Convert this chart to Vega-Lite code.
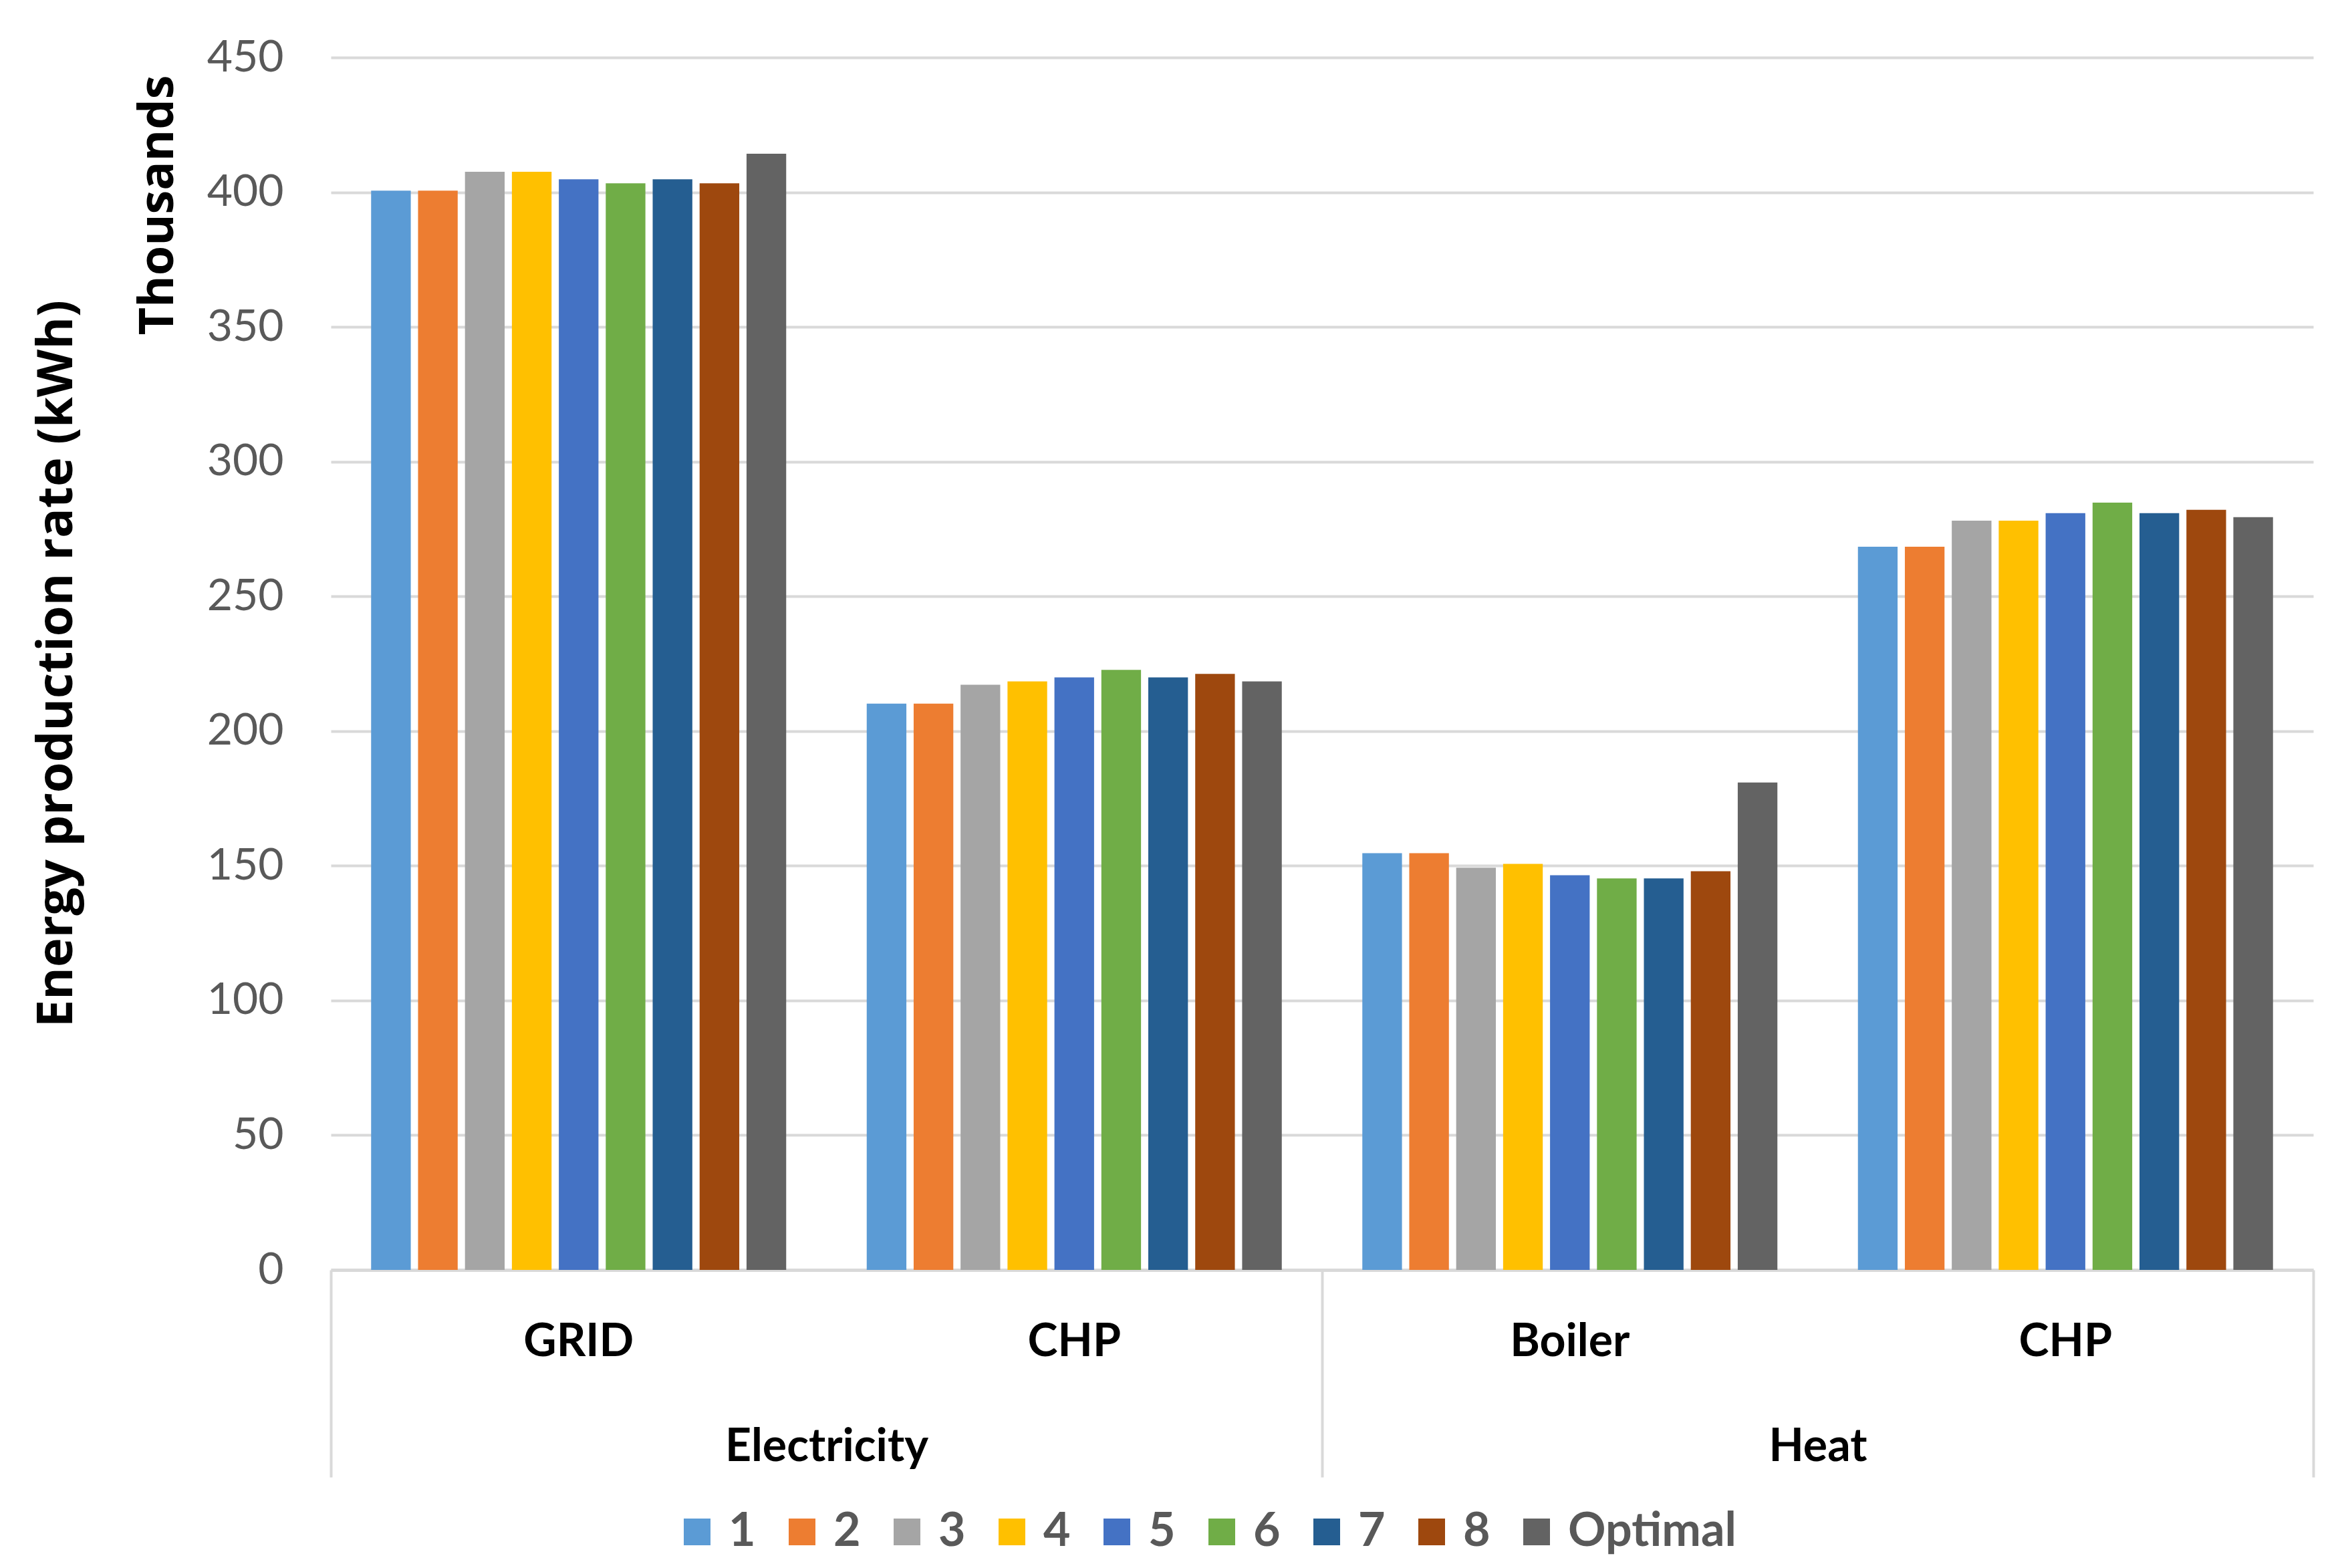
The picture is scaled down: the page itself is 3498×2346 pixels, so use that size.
{
  "$schema": "https://vega.github.io/schema/vega-lite/v6.json",
  "autosize": {"type": "none"},
  "padding": {"left": 495, "top": 86, "right": 37, "bottom": 446},
  "width": 2966,
  "height": 1814,
  "background": "white",
  "title": {"text": "Energy production rate (kWh)", "orient": "left", "anchor": "middle", "frame": "group", "font": "Open Sans", "fontSize": 74, "fontWeight": "bold", "color": "#000000", "offset": 76, "limit": 0},
  "data": {"values": [
    {"main": "Electricity", "key": "Electricity|GRID", "series": "1", "value": 400.6},
    {"main": "Electricity", "key": "Electricity|GRID", "series": "2", "value": 400.6},
    {"main": "Electricity", "key": "Electricity|GRID", "series": "3", "value": 407.6},
    {"main": "Electricity", "key": "Electricity|GRID", "series": "4", "value": 407.6},
    {"main": "Electricity", "key": "Electricity|GRID", "series": "5", "value": 404.8},
    {"main": "Electricity", "key": "Electricity|GRID", "series": "6", "value": 403.3},
    {"main": "Electricity", "key": "Electricity|GRID", "series": "7", "value": 404.8},
    {"main": "Electricity", "key": "Electricity|GRID", "series": "8", "value": 403.3},
    {"main": "Electricity", "key": "Electricity|GRID", "series": "Optimal", "value": 414.3},
    {"main": "Electricity", "key": "Electricity|CHP", "series": "1", "value": 210.2},
    {"main": "Electricity", "key": "Electricity|CHP", "series": "2", "value": 210.2},
    {"main": "Electricity", "key": "Electricity|CHP", "series": "3", "value": 217.2},
    {"main": "Electricity", "key": "Electricity|CHP", "series": "4", "value": 218.4},
    {"main": "Electricity", "key": "Electricity|CHP", "series": "5", "value": 219.9},
    {"main": "Electricity", "key": "Electricity|CHP", "series": "6", "value": 222.7},
    {"main": "Electricity", "key": "Electricity|CHP", "series": "7", "value": 219.9},
    {"main": "Electricity", "key": "Electricity|CHP", "series": "8", "value": 221.2},
    {"main": "Electricity", "key": "Electricity|CHP", "series": "Optimal", "value": 218.4},
    {"main": "Heat", "key": "Heat|Boiler", "series": "1", "value": 154.7},
    {"main": "Heat", "key": "Heat|Boiler", "series": "2", "value": 154.7},
    {"main": "Heat", "key": "Heat|Boiler", "series": "3", "value": 149.3},
    {"main": "Heat", "key": "Heat|Boiler", "series": "4", "value": 150.7},
    {"main": "Heat", "key": "Heat|Boiler", "series": "5", "value": 146.5},
    {"main": "Heat", "key": "Heat|Boiler", "series": "6", "value": 145.3},
    {"main": "Heat", "key": "Heat|Boiler", "series": "7", "value": 145.3},
    {"main": "Heat", "key": "Heat|Boiler", "series": "8", "value": 148.0},
    {"main": "Heat", "key": "Heat|Boiler", "series": "Optimal", "value": 180.9},
    {"main": "Heat", "key": "Heat|CHP", "series": "1", "value": 268.4},
    {"main": "Heat", "key": "Heat|CHP", "series": "2", "value": 268.4},
    {"main": "Heat", "key": "Heat|CHP", "series": "3", "value": 278.1},
    {"main": "Heat", "key": "Heat|CHP", "series": "4", "value": 278.1},
    {"main": "Heat", "key": "Heat|CHP", "series": "5", "value": 280.9},
    {"main": "Heat", "key": "Heat|CHP", "series": "6", "value": 284.8},
    {"main": "Heat", "key": "Heat|CHP", "series": "7", "value": 280.9},
    {"main": "Heat", "key": "Heat|CHP", "series": "8", "value": 282.1},
    {"main": "Heat", "key": "Heat|CHP", "series": "Optimal", "value": 279.4}
  ]},
  "layer": [
    {
      "mark": {"type": "bar"},
      "encoding": {
        "x": {
          "field": "key", "type": "nominal",
          "sort": ["Electricity|GRID", "Electricity|CHP", "Heat|Boiler", "Heat|CHP"],
          "scale": {"paddingInner": 0.1625, "paddingOuter": 0.08125},
          "axis": {"title": null, "labelExpr": "split(datum.value, '|')[1]", "labelFont": "Lato", "labelFontSize": 68, "labelFontWeight": "bold", "labelColor": "#000000", "labelPadding": 128, "labelBaseline": "alphabetic", "labelAngle": 0, "labelLimit": 0, "ticks": false, "domainColor": "#D9D9D9", "domainWidth": 5, "grid": false}
        },
        "xOffset": {
          "field": "series", "type": "nominal",
          "sort": ["1", "2", "3", "4", "5", "6", "7", "8", "Optimal"],
          "scale": {"paddingInner": 0.155, "paddingOuter": 0}
        },
        "y": {
          "field": "value", "type": "quantitative",
          "scale": {"domain": [0, 450]},
          "axis": {"title": "Thousands", "titleAnchor": "end", "titleY": 26, "titleFont": "Open Sans", "titleFontSize": 72, "titleFontWeight": "bold", "titleColor": "#000000", "titlePadding": 36, "titleLimit": 0, "labelFont": "Lato", "labelFontSize": 66, "labelColor": "#595959", "labelPadding": 71, "ticks": false, "domain": false, "gridColor": "#D9D9D9", "gridWidth": 4, "values": [0, 50, 100, 150, 200, 250, 300, 350, 400, 450]}
        },
        "color": {
          "field": "series", "type": "nominal",
          "scale": {"domain": ["1", "2", "3", "4", "5", "6", "7", "8", "Optimal"], "range": ["#5B9BD5", "#ED7D31", "#A5A5A5", "#FFC000", "#4472C4", "#70AD47", "#255E91", "#9E480E", "#636363"]},
          "legend": {"title": null, "orient": "none", "legendX": 513, "legendY": 2171, "direction": "horizontal", "symbolType": "square", "symbolSize": 1600, "symbolStrokeWidth": 0, "labelFont": "Lato", "labelFontSize": 70, "labelFontWeight": "bold", "labelColor": "#595959", "labelOffset": 12, "labelLimit": 0, "columnPadding": 34, "padding": 0}
        }
      }
    },
    {
      "mark": {"type": "point", "opacity": 0},
      "encoding": {
        "x": {
          "field": "main", "type": "nominal",
          "sort": ["Electricity", "Heat"],
          "scale": {"type": "band", "paddingInner": 0, "paddingOuter": 0},
          "axis": {"orient": "bottom", "title": null, "labelFont": "Lato", "labelFontSize": 68, "labelFontWeight": "bold", "labelColor": "#000000", "labelAngle": 0, "labelPadding": -25, "labelBaseline": "alphabetic", "labelLimit": 0, "domain": false, "ticks": true, "tickBand": "extent", "tickSize": 310, "tickWidth": 4, "tickColor": "#D9D9D9", "grid": false}
        }
      }
    }
  ],
  "resolve": {"scale": {"x": "independent"}},
  "config": {"view": {"stroke": null}}
}
